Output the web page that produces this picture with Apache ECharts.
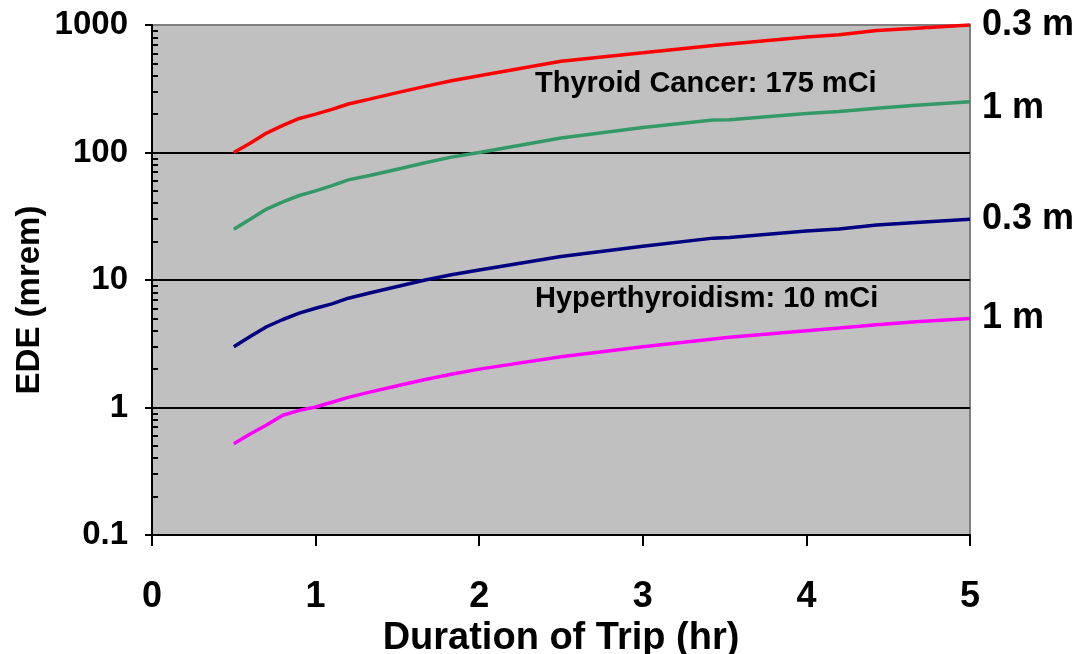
<!DOCTYPE html>
<html>
<head>
<meta charset="utf-8">
<script src="https://cdn.jsdelivr.net/npm/echarts@6/dist/echarts.min.js"></script>
<style>
html,body{margin:0;padding:0;background:#fff;}
#chart{width:1083px;height:654px;}
</style>
</head>
<body>
<div id="chart"></div>
<script>
// ---- data ----
const hours = [0.5, 0.6, 0.7, 0.8, 0.9, 1.0, 1.1, 1.2, 1.33, 1.5, 1.67, 1.83, 2.0, 2.5, 3.0, 3.43, 3.53, 4.0, 4.2, 4.43, 4.67, 5.0];
const cancer03m = [100, 118, 142, 163, 185, 200, 218, 240, 262, 295, 330, 365, 400, 520, 605, 690, 710, 805, 840, 905, 945, 1000];
const cancer1m  = [25, 30, 36, 41, 46, 50, 55, 61, 66, 74, 83, 92, 100, 130, 157, 180, 181, 202, 210, 222, 235, 250];
const hyper03m  = [3.0, 3.6, 4.3, 4.9, 5.5, 6.0, 6.5, 7.2, 7.9, 8.9, 10.0, 11.0, 12.0, 15.3, 18.4, 21.3, 21.5, 24.2, 25.1, 27.0, 28.3, 30.0];
const hyper1m   = [0.52, 0.62, 0.73, 0.87, 0.95, 1.01, 1.1, 1.2, 1.32, 1.48, 1.66, 1.82, 2.0, 2.5, 3.0, 3.45, 3.55, 4.0, 4.2, 4.45, 4.7, 5.0];
const seriesNames = ['0.3 m', '1 m', '0.3 m', '1 m'];
const xTicks = [0, 1, 2, 3, 4, 5];
const yTickLabels = ['0.1', '1', '10', '100', '1000'];
const yMinorTicks = [0.2,0.3,0.4,0.5,0.6,0.7,0.8,0.9, 2,3,4,5,6,7,8,9, 20,30,40,50,60,70,80,90, 200,300,400,500,600,700,800,900];
const annotations = ['Thyroid Cancer: 175 mCi', 'Hyperthyroidism: 10 mCi'];
const xTitle = 'Duration of Trip (hr)';
const yTitle = 'EDE (mrem)';

const FONT = "'Liberation Sans', Arial, sans-serif";
const chart = echarts.init(document.getElementById('chart'), null, {renderer: 'canvas'});

function mkSeries(name, vals, color, offset) {
  return {
    type: 'line',
    name: name,
    data: hours.map((h, i) => [h, vals[i]]),
    showSymbol: false,
    symbol: 'none',
    lineStyle: {color: color, width: 3.5},
    itemStyle: {color: color},
    clip: false,
    z: 5,
    endLabel: {
      show: true,
      formatter: name,
      color: '#000',
      fontFamily: FONT,
      fontWeight: 'bold',
      fontSize: 36,
      distance: 12,
      offset: offset
    },
    emphasis: {disabled: true}
  };
}

const labelFor = v => {
  const e = Math.round(Math.log10(v)) + 1;
  return yTickLabels[e] !== undefined ? yTickLabels[e] : '';
};

const option = {
  animation: false,
  backgroundColor: '#ffffff',
  grid: {
    left: 152, right: 113, top: 25, bottom: 119,
    outerBoundsMode: 'none',
    containLabel: false,
    show: true,
    backgroundColor: '#c0c0c0',
    borderColor: '#808080',
    borderWidth: 2
  },
  xAxis: {
    type: 'value',
    min: 0, max: 5, interval: 1,
    name: xTitle,
    nameLocation: 'middle',
    nameGap: 84,
    nameTextStyle: {fontFamily: FONT, fontWeight: 'bold', fontSize: 38, color: '#000'},
    axisLine: {show: true, onZero: false, lineStyle: {color: '#000', width: 2}},
    axisTick: {show: true, inside: false, length: 11, lineStyle: {color: '#000', width: 2}},
    axisLabel: {fontFamily: FONT, fontWeight: 'bold', fontSize: 36, color: '#000', margin: 44,
      formatter: v => String(v)},
    splitLine: {show: false}
  },
  yAxis: [{
    type: 'log',
    logBase: 10,
    min: 0.1, max: 1000,
    axisLine: {show: true, lineStyle: {color: '#000', width: 2}},
    axisTick: {show: true, inside: false, length: 7, lineStyle: {color: '#000', width: 2}},
    axisLabel: {fontFamily: FONT, fontWeight: 'bold', fontSize: 33, color: '#000', margin: 24,
      formatter: labelFor},
    splitLine: {show: true, lineStyle: {color: ['#000', '#000', '#000', '#000', '#808080'], width: 2}}
  }, {
    type: 'log',
    logBase: 10,
    min: 0.1, max: 1000,
    position: 'right',
    offset: -818,
    axisLine: {show: false},
    axisLabel: {show: false},
    splitLine: {show: false},
    axisTick: {show: true, inside: false, length: 6, customValues: yMinorTicks,
      lineStyle: {color: '#000', width: 2}}
  }],
  series: [
    mkSeries(seriesNames[0], cancer03m, '#ff0000', [0, 0]),
    mkSeries(seriesNames[1], cancer1m, '#339966', [0, 6]),
    mkSeries(seriesNames[2], hyper03m, '#000080', [0, 0]),
    mkSeries(seriesNames[3], hyper1m, '#ff00ff', [0, 0])
  ],
  graphic: [
    {type: 'text', x: 535, y: 84, z: 10,
      style: {text: annotations[0], font: 'bold 29px ' + FONT, fill: '#000', textAlign: 'left', textVerticalAlign: 'middle'}},
    {type: 'text', x: 535, y: 299, z: 10,
      style: {text: annotations[1], font: 'bold 29px ' + FONT, fill: '#000', textAlign: 'left', textVerticalAlign: 'middle'}},
    {type: 'text', x: 30, y: 300, rotation: Math.PI / 2, z: 10,
      style: {text: yTitle, font: 'bold 33px ' + FONT, fill: '#000', textAlign: 'center', textVerticalAlign: 'middle'}}
  ]
};
chart.setOption(option);
</script>
</body>
</html>
